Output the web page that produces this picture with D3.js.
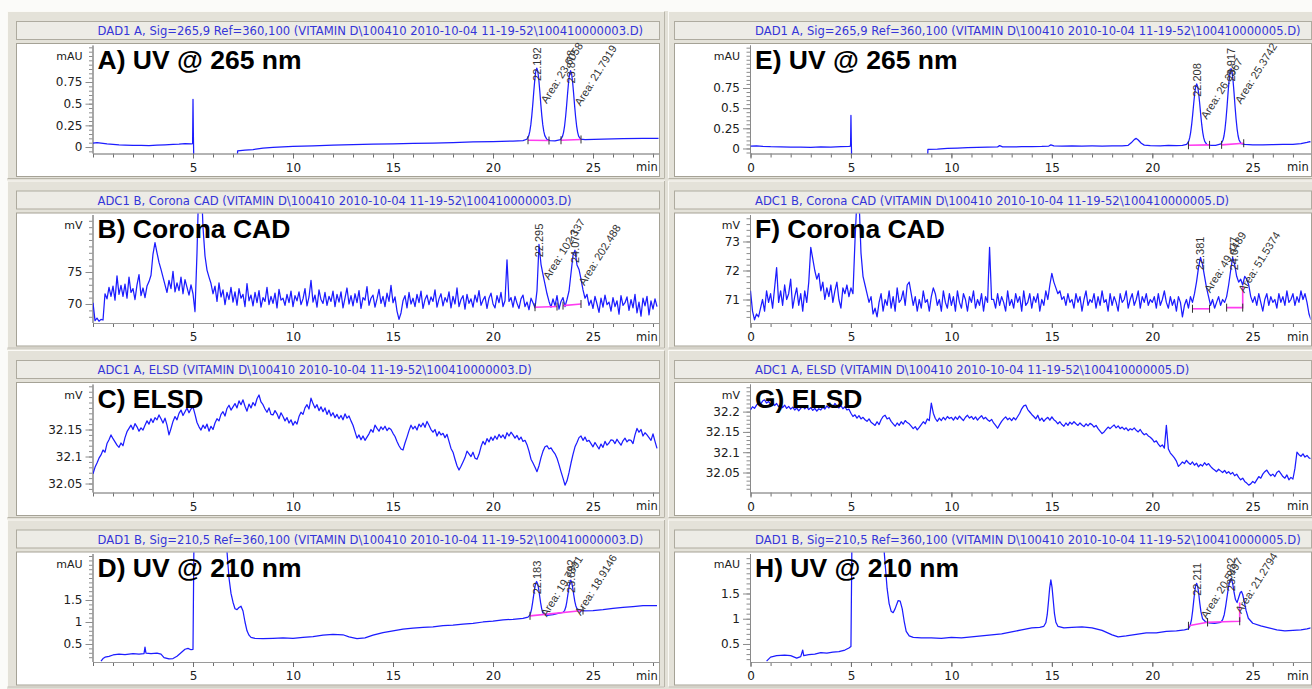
<!DOCTYPE html>
<html>
<head>
<meta charset="utf-8">
<script src="https://cdn.jsdelivr.net/npm/d3@7"></script>
<style>
  body { margin: 0; background: #fff; }
  svg { display: block; }
</style>
</head>
<body>
<svg id="chart" width="1312" height="689"></svg>
<script>
// ---- values ----
const titles = [
  "DAD1 A, Sig=265,9 Ref=360,100 (VITAMIN D\\100410 2010-10-04 11-19-52\\100410000003.D)",
  "ADC1 B, Corona CAD (VITAMIN D\\100410 2010-10-04 11-19-52\\100410000003.D)",
  "ADC1 A, ELSD (VITAMIN D\\100410 2010-10-04 11-19-52\\100410000003.D)",
  "DAD1 B, Sig=210,5 Ref=360,100 (VITAMIN D\\100410 2010-10-04 11-19-52\\100410000003.D)",
  "DAD1 A, Sig=265,9 Ref=360,100 (VITAMIN D\\100410 2010-10-04 11-19-52\\100410000005.D)",
  "ADC1 B, Corona CAD (VITAMIN D\\100410 2010-10-04 11-19-52\\100410000005.D)",
  "ADC1 A, ELSD (VITAMIN D\\100410 2010-10-04 11-19-52\\100410000005.D)",
  "DAD1 B, Sig=210,5 Ref=360,100 (VITAMIN D\\100410 2010-10-04 11-19-52\\100410000005.D)"
];
const labels = ["A) UV @ 265 nm", "B) Corona CAD", "C) ELSD", "D) UV @ 210 nm",
                "E) UV @ 265 nm", "F) Corona CAD", "G) ELSD", "H) UV @ 210 nm"];
const units = ["mAU", "mV", "mV", "mAU", "mAU", "mV", "mV", "mAU"];

const xTicksLeft = [5, 10, 15, 20, 25];
const xTicksRight = [0, 5, 10, 15, 20, 25];

const yTicksA = [0, 0.25, 0.5, 0.75];
const yTicksB = [70, 75];
const yTicksC = [32.05, 32.1, 32.15];
const yTicksD = [0.5, 1, 1.5];
const yTicksE = [0, 0.25, 0.5, 0.75];
const yTicksF = [71, 72, 73];
const yTicksG = [32.05, 32.1, 32.15, 32.2];
const yTicksH = [0.5, 1, 1.5];

// UV traces: [min, mAU]
const uvA = [[0.0,0.045],[0.2,0.05],[0.4,0.045],[0.7,0.035],[1.0,0.03],[1.3,0.025],[1.6,0.022],[2.0,0.018],[2.4,0.02],[2.8,0.017],[3.2,0.022],[3.6,0.025],[4.0,0.03],[4.3,0.033],[4.6,0.038],[4.9,0.035],[4.98,0.04],[5.0,0.55],[5.02,0.12],[5.05,-0.3],[7.2,-0.3],[7.23,-0.045],[7.6,-0.035],[8.0,-0.03],[8.5,-0.012],[9.0,-0.005],[9.5,0.002],[10,0.008],[11,0.014],[12,0.022],[13,0.028],[14,0.033],[15,0.036],[16,0.042],[17,0.046],[18,0.052],[19,0.058],[20,0.063],[21,0.068],[21.5,0.074],[21.69,0.09],[21.79,0.132],[21.84,0.18],[21.89,0.255],[21.94,0.362],[21.99,0.495],[22.04,0.643],[22.09,0.778],[22.14,0.874],[22.19,0.91],[22.24,0.874],[22.29,0.778],[22.34,0.643],[22.39,0.495],[22.44,0.362],[22.49,0.255],[22.54,0.18],[22.59,0.132],[22.69,0.09],[22.85,0.075],[23.1,0.072],[23.38,0.085],[23.48,0.126],[23.53,0.172],[23.58,0.245],[23.63,0.349],[23.68,0.478],[23.73,0.621],[23.78,0.752],[23.83,0.845],[23.88,0.88],[23.93,0.845],[23.98,0.752],[24.03,0.621],[24.08,0.478],[24.13,0.349],[24.18,0.245],[24.23,0.172],[24.28,0.126],[24.38,0.09],[24.6,0.086],[25.5,0.092],[26.5,0.096],[27.5,0.1],[28.3,0.1]];

const uvE = [[0.0,0.03],[0.3,0.032],[0.6,0.026],[1.0,0.022],[1.5,0.02],[2.0,0.016],[2.5,0.018],[3.0,0.015],[3.5,0.02],[4.0,0.018],[4.5,0.022],[4.9,0.025],[4.98,0.03],[5.0,0.41],[5.02,0.06],[5.05,-0.3],[8.8,-0.3],[8.83,-0.012],[9.3,-0.008],[9.8,0.0],[10.3,0.005],[10.8,0.01],[11.3,0.014],[11.8,0.016],[12.3,0.02],[12.4,0.035],[12.55,0.02],[13,0.02],[13.5,0.022],[14,0.024],[14.5,0.026],[14.85,0.03],[14.95,0.045],[15.1,0.032],[15.5,0.03],[16,0.032],[16.5,0.03],[17,0.031],[17.5,0.03],[18,0.032],[18.5,0.033],[18.8,0.04],[18.95,0.07],[19.1,0.11],[19.2,0.125],[19.3,0.105],[19.45,0.065],[19.6,0.042],[19.9,0.034],[20.4,0.032],[20.8,0.038],[21.2,0.036],[21.5,0.038],[21.71,0.05],[21.81,0.088],[21.86,0.131],[21.91,0.2],[21.96,0.298],[22.01,0.42],[22.06,0.555],[22.11,0.679],[22.16,0.767],[22.21,0.8],[22.26,0.767],[22.31,0.679],[22.36,0.555],[22.41,0.42],[22.46,0.298],[22.51,0.2],[22.56,0.131],[22.61,0.088],[22.71,0.05],[22.9,0.04],[23.15,0.038],[23.42,0.057],[23.52,0.105],[23.57,0.158],[23.62,0.244],[23.67,0.366],[23.72,0.517],[23.77,0.686],[23.82,0.84],[23.87,0.949],[23.92,0.99],[23.97,0.949],[24.02,0.84],[24.07,0.686],[24.12,0.517],[24.17,0.366],[24.22,0.244],[24.27,0.158],[24.32,0.105],[24.42,0.06],[24.6,0.05],[25,0.046],[25.5,0.045],[26,0.048],[26.5,0.05],[27,0.052],[27.4,0.06],[27.7,0.075],[27.85,0.085],[28,0.08]];

const uvD = [[0.4,0.11],[0.5,0.17],[0.6,0.2],[0.8,0.22],[1.0,0.25],[1.3,0.27],[1.6,0.26],[2.0,0.28],[2.3,0.27],[2.55,0.28],[2.6,0.43],[2.65,0.29],[2.9,0.28],[3.2,0.29],[3.4,0.27],[3.55,0.19],[3.8,0.16],[4.0,0.17],[4.2,0.22],[4.4,0.3],[4.6,0.38],[4.75,0.4],[4.9,0.37],[5.0,0.38],[5.05,3.0],[6.6,3.0],[6.7,2.6],[6.8,2.0],[6.9,1.65],[7.0,1.45],[7.1,1.3],[7.2,1.28],[7.3,1.33],[7.4,1.36],[7.5,1.25],[7.6,1.0],[7.7,0.8],[7.8,0.7],[7.9,0.65],[8.1,0.63],[8.5,0.62],[9,0.63],[9.5,0.64],[10,0.63],[10.5,0.65],[11,0.67],[11.5,0.7],[12,0.72],[12.5,0.71],[12.8,0.66],[13.2,0.62],[13.6,0.64],[14,0.7],[14.5,0.76],[15,0.8],[15.5,0.84],[16,0.86],[16.5,0.88],[17,0.89],[17.5,0.92],[18,0.93],[18.5,0.95],[19,0.97],[19.5,1.0],[20,1.02],[20.5,1.05],[21,1.06],[21.5,1.08],[21.75,1.11],[21.83,1.15],[21.88,1.2],[21.93,1.3],[21.98,1.44],[22.03,1.6],[22.08,1.76],[22.13,1.87],[22.18,1.92],[22.23,1.87],[22.28,1.76],[22.33,1.6],[22.38,1.44],[22.43,1.31],[22.48,1.22],[22.55,1.17],[22.7,1.15],[23.0,1.17],[23.3,1.2],[23.5,1.22],[23.58,1.26],[23.64,1.34],[23.69,1.46],[23.74,1.61],[23.79,1.76],[23.84,1.89],[23.89,1.95],[23.94,1.89],[23.99,1.76],[24.04,1.61],[24.09,1.47],[24.14,1.37],[24.2,1.3],[24.3,1.26],[24.5,1.25],[25,1.26],[25.5,1.28],[26,1.31],[26.5,1.33],[27,1.35],[27.5,1.37],[28.2,1.37]];

const uvH = [[0.8,0.16],[0.9,0.2],[1.0,0.24],[1.3,0.27],[1.7,0.28],[2.0,0.27],[2.3,0.22],[2.5,0.25],[2.6,0.38],[2.65,0.27],[2.9,0.29],[3.2,0.3],[3.5,0.33],[3.8,0.32],[4.1,0.34],[4.4,0.35],[4.7,0.38],[4.9,0.42],[5.0,0.45],[5.05,2.6],[6.6,2.6],[6.7,2.1],[6.8,1.6],[6.9,1.3],[7.0,1.15],[7.1,1.12],[7.2,1.2],[7.35,1.36],[7.45,1.35],[7.55,1.2],[7.65,0.95],[7.75,0.75],[7.9,0.66],[8.1,0.63],[8.5,0.62],[9,0.62],[9.5,0.61],[10,0.63],[10.5,0.62],[11,0.64],[11.5,0.66],[12,0.68],[12.5,0.7],[13,0.74],[13.5,0.78],[14,0.82],[14.4,0.83],[14.6,0.85],[14.7,0.92],[14.77,1.08],[14.83,1.33],[14.89,1.6],[14.95,1.77],[15.01,1.62],[15.07,1.36],[15.13,1.1],[15.2,0.93],[15.3,0.85],[15.6,0.82],[16,0.83],[16.5,0.84],[17,0.82],[17.5,0.77],[18,0.68],[18.3,0.64],[18.7,0.66],[19.2,0.69],[19.7,0.72],[20.2,0.72],[20.7,0.75],[21.2,0.76],[21.6,0.78],[21.8,0.8],[21.88,0.86],[21.95,0.98],[22.01,1.16],[22.06,1.35],[22.11,1.53],[22.16,1.66],[22.21,1.7],[22.26,1.64],[22.31,1.5],[22.36,1.32],[22.42,1.14],[22.5,1.0],[22.65,0.94],[22.8,0.92],[23.1,0.91],[23.4,0.93],[23.5,0.98],[23.58,1.08],[23.65,1.24],[23.72,1.43],[23.79,1.62],[23.86,1.75],[23.93,1.8],[24.0,1.7],[24.07,1.52],[24.14,1.38],[24.22,1.32],[24.3,1.42],[24.38,1.52],[24.44,1.54],[24.5,1.48],[24.58,1.34],[24.67,1.16],[24.78,1.01],[25.0,0.91],[25.4,0.86],[25.8,0.82],[26.2,0.78],[26.6,0.76],[27.0,0.77],[27.4,0.78],[27.7,0.8],[27.9,0.82]];

// CAD / ELSD traces: one value every 0.1 min from 0 min
const cadB = [
70.2,67.4,67.8,67.3,67.6,67.5,71.6,70.8,72.6,71.2,
72.8,70.6,74.4,71.5,72.9,71.2,73.1,70.9,74.2,71.8,
72.4,70.7,73.0,74.6,71.3,72.5,71.0,72.8,73.5,74.5,
77.8,79.6,78.0,76.5,75.4,74.2,73.0,71.8,73.7,72.4,
75.1,71.9,73.3,72.1,74.2,71.6,73.8,72.6,71.4,73.0,
71.6,68.8,78.0,90,90,82.0,77.5,75.3,74.2,73.2,
71.6,72.8,70.4,73.3,71.1,72.2,69.9,71.8,70.7,72.6,
70.3,71.9,69.8,72.4,70.9,71.5,69.6,73.2,70.5,71.4,
69.7,71.8,70.2,72.1,69.5,71.0,70.4,72.6,69.9,71.2,
70.1,71.7,69.4,72.3,70.6,70.9,69.8,71.5,70.2,72.0,
69.6,71.3,70.5,71.9,69.9,70.8,72.4,69.7,71.1,73.7,
70.3,71.4,69.5,72.2,70.7,70.1,71.8,69.8,71.2,70.4,
72.0,69.6,71.5,70.3,71.9,69.4,70.9,72.5,70.0,71.3,
69.7,71.6,70.2,72.1,69.3,71.0,70.6,72.7,69.8,70.9,
71.4,69.5,70.8,72.3,70.1,71.2,69.6,71.7,70.4,72.9,
70.2,71.1,68.9,67.6,68.6,70.5,71.3,69.4,71.8,70.0,
70.9,69.6,71.5,70.2,72.0,69.3,70.7,71.4,69.9,71.1,
70.4,72.2,69.5,70.8,71.6,69.7,71.0,70.3,71.9,69.4,
71.2,70.0,72.5,69.6,70.7,71.3,69.2,71.5,70.1,70.8,
69.5,71.4,70.3,72.1,69.8,70.6,71.2,69.3,70.9,71.7,
70.0,69.4,71.3,70.2,71.8,69.6,70.5,76.9,70.4,71.0,
69.5,71.2,70.1,69.3,70.8,71.4,69.6,70.3,69.1,70.9,
70.2,69.4,72.1,79.3,76.2,74.6,73.1,71.6,70.4,69.5,
70.8,69.7,71.3,69.2,70.4,71.0,69.6,70.7,72.0,74.8,
77.6,78.4,76.1,75.4,73.9,72.2,70.9,71.5,69.8,70.6,
69.3,71.2,70.0,68.7,70.9,69.5,71.4,69.9,70.3,68.9,
71.0,69.6,70.5,68.4,71.3,69.8,70.2,71.1,69.0,70.7,
69.4,71.5,68.6,70.3,68.1,70.9,69.7,71.2,68.3,70.5,
69.2,70.8,69.6];

const elsdC = [
32.068,32.080,32.088,32.097,32.103,32.112,32.108,32.124,32.131,32.140,
32.133,32.127,32.121,32.117,32.125,32.120,32.135,32.146,32.152,32.158,
32.150,32.161,32.155,32.147,32.153,32.149,32.158,32.166,32.160,32.170,
32.163,32.172,32.168,32.177,32.170,32.162,32.171,32.158,32.140,32.152,
32.165,32.174,32.168,32.180,32.186,32.176,32.183,32.190,32.181,32.188,
32.192,32.178,32.163,32.155,32.149,32.158,32.152,32.160,32.147,32.156,
32.150,32.162,32.170,32.166,32.178,32.183,32.175,32.189,32.195,32.186,
32.192,32.198,32.190,32.203,32.196,32.205,32.193,32.184,32.197,32.190,
32.200,32.194,32.207,32.214,32.201,32.196,32.188,32.182,32.190,32.178,
32.177,32.185,32.179,32.170,32.181,32.174,32.166,32.172,32.162,32.168,
32.158,32.165,32.160,32.174,32.182,32.178,32.190,32.196,32.188,32.208,
32.198,32.190,32.196,32.185,32.192,32.183,32.190,32.178,32.186,32.175,
32.181,32.172,32.178,32.170,32.176,32.168,32.179,32.171,32.175,32.166,
32.158,32.146,32.134,32.140,32.131,32.138,32.130,32.136,32.142,32.150,
32.145,32.158,32.152,32.147,32.155,32.150,32.156,32.148,32.153,32.150,
32.143,32.137,32.128,32.120,32.114,32.112,32.125,32.136,32.148,32.158,
32.151,32.156,32.149,32.160,32.155,32.162,32.154,32.165,32.158,32.150,
32.145,32.150,32.138,32.146,32.140,32.143,32.135,32.141,32.128,32.115,
32.108,32.095,32.083,32.075,32.082,32.090,32.098,32.110,32.105,32.100,
32.108,32.097,32.095,32.104,32.118,32.128,32.122,32.133,32.127,32.136,
32.130,32.138,32.132,32.141,32.135,32.140,32.133,32.144,32.138,32.145,
32.140,32.134,32.139,32.131,32.136,32.128,32.130,32.122,32.110,32.095,
32.088,32.080,32.072,32.083,32.098,32.110,32.118,32.120,32.114,32.116,
32.110,32.105,32.097,32.085,32.072,32.060,32.047,32.055,32.070,32.088,
32.104,32.118,32.126,32.135,32.138,32.130,32.136,32.128,32.130,32.124,
32.118,32.126,32.120,32.114,32.123,32.117,32.128,32.121,32.125,32.131,
32.130,32.124,32.132,32.126,32.121,32.129,32.134,32.127,32.131,32.130,
32.124,32.140,32.152,32.145,32.150,32.138,32.144,32.140,32.135,32.130,
32.142,32.128,32.115];

const cadF = [
71.3,70.6,70.3,70.5,70.4,70.7,71.0,70.6,71.3,70.9,
71.2,70.7,71.4,72.1,70.9,71.3,70.8,71.5,71.0,71.2,
71.7,70.7,71.1,71.4,70.8,71.2,70.6,71.3,70.9,71.6,
72.8,72.4,72.0,71.7,71.9,71.3,71.6,71.0,71.4,71.1,
71.5,70.9,71.3,71.6,71.0,70.7,71.4,71.2,71.5,71.1,
71.4,71.2,73.0,74.5,74.5,72.6,71.8,71.5,71.2,70.9,
71.1,70.5,70.7,70.4,70.9,71.2,70.6,71.0,70.8,71.3,
70.7,71.1,70.6,71.4,70.9,71.0,71.3,70.8,71.5,71.6,
71.2,70.8,71.1,70.6,71.0,70.7,71.3,70.9,71.0,70.6,
71.1,71.4,71.2,70.8,71.0,70.6,71.3,70.9,70.7,71.2,
70.8,71.1,70.6,71.3,70.9,70.7,71.2,71.0,70.6,71.1,
70.9,71.3,70.7,71.0,70.8,71.2,70.6,71.1,70.9,72.8,
71.0,71.0,70.7,71.2,70.8,71.1,70.9,70.6,71.3,70.8,
71.0,70.7,71.2,70.9,71.1,70.6,71.3,70.8,70.9,71.2,
70.7,71.1,70.9,71.2,70.6,71.0,70.8,71.3,71.0,71.5,
71.9,71.6,71.4,71.2,71.3,71.0,71.1,70.8,71.2,70.9,
71.0,70.7,71.2,70.9,71.1,70.6,71.0,71.3,70.8,71.0,
70.9,71.2,70.7,71.1,70.8,71.3,70.9,71.0,70.6,71.2,
70.8,71.1,70.9,70.6,71.2,70.9,71.0,71.3,70.7,71.0,
71.2,70.8,71.0,71.3,70.7,71.1,70.9,71.2,70.8,71.0,
70.9,71.1,70.7,71.2,70.8,71.0,71.3,70.9,70.7,71.1,
70.8,71.0,70.6,71.1,70.9,70.4,70.8,71.0,70.7,71.1,
70.9,71.2,71.6,72.1,72.45,72.2,71.8,71.4,71.1,70.8,
71.0,70.7,70.9,71.1,70.8,71.0,70.9,71.1,71.5,72.0,
72.45,72.2,71.8,71.6,71.7,71.5,71.8,71.7,71.5,71.1,
70.9,71.1,70.8,71.2,70.9,70.6,71.0,71.2,70.8,71.1,
70.9,71.0,70.7,71.2,70.9,71.1,70.8,71.3,70.9,71.0,
71.2,70.8,71.1,70.9,71.3,71.0,71.2,70.9,70.5,70.3];

const elsdG = [
32.204,32.212,32.208,32.216,32.222,32.218,32.226,32.229,32.221,32.225,
32.218,32.223,32.215,32.220,32.212,32.217,32.210,32.216,32.208,32.213,
32.206,32.211,32.204,32.209,32.202,32.208,32.214,32.207,32.212,32.205,
32.210,32.203,32.208,32.201,32.207,32.204,32.211,32.206,32.214,32.209,
32.216,32.212,32.220,32.214,32.209,32.215,32.207,32.212,32.204,32.206,
32.196,32.188,32.192,32.184,32.190,32.182,32.186,32.180,32.176,32.182,
32.174,32.170,32.166,32.175,32.168,32.180,32.188,32.191,32.182,32.185,
32.176,32.170,32.164,32.172,32.166,32.175,32.169,32.178,32.173,32.170,
32.164,32.158,32.163,32.155,32.161,32.168,32.175,32.170,32.182,32.178,
32.221,32.196,32.183,32.176,32.184,32.178,32.186,32.180,32.188,32.183,
32.186,32.179,32.187,32.181,32.189,32.183,32.178,32.186,32.191,32.184,
32.188,32.181,32.187,32.179,32.185,32.190,32.182,32.186,32.180,32.176,
32.181,32.172,32.166,32.159,32.168,32.176,32.182,32.187,32.180,32.184,
32.178,32.185,32.180,32.188,32.196,32.207,32.214,32.216,32.205,32.199,
32.193,32.188,32.182,32.191,32.178,32.184,32.176,32.182,32.186,32.179,
32.187,32.180,32.176,32.170,32.175,32.168,32.164,32.172,32.166,32.174,
32.169,32.175,32.170,32.166,32.172,32.167,32.163,32.170,32.165,32.171,
32.168,32.162,32.166,32.158,32.152,32.146,32.150,32.156,32.162,32.158,
32.163,32.167,32.160,32.165,32.158,32.162,32.156,32.160,32.153,32.158,
32.155,32.160,32.154,32.150,32.156,32.148,32.143,32.146,32.140,32.137,
32.132,32.125,32.128,32.120,32.114,32.118,32.110,32.166,32.108,32.098,
32.092,32.086,32.078,32.065,32.070,32.076,32.072,32.080,32.074,32.070,
32.076,32.068,32.073,32.064,32.070,32.066,32.074,32.068,32.072,32.065,
32.060,32.056,32.052,32.058,32.054,32.050,32.055,32.048,32.052,32.046,
32.050,32.042,32.046,32.038,32.032,32.036,32.028,32.024,32.019,32.022,
32.028,32.024,32.032,32.040,32.036,32.046,32.052,32.056,32.048,32.042,
32.046,32.040,32.050,32.054,32.047,32.040,32.036,32.044,32.032,32.038,
32.034,32.060,32.100,32.094,32.090,32.096,32.088,32.092,32.086,32.084];

// integration baselines (magenta)
const baseA = [[[21.75,0.078],[22.8,0.075]], [[23.4,0.078],[24.4,0.087]]];
const baseB = [[[22.1,69.5],[23.2,69.6]], [[23.5,69.75],[24.4,70.0]]];
const baseD = [[[21.85,1.14],[24.5,1.26]]];
const baseE = [[[21.8,0.04],[22.85,0.045]], [[23.45,0.045],[24.55,0.065]]];
const baseF = [[[22.0,70.68],[22.85,70.68]], [[23.7,70.72],[24.5,70.72],[24.5,71.45]]];
const baseH = [[[21.8,0.86],[22.75,0.93]], [[22.75,0.93],[24.35,0.95],[24.35,1.32]]];

// peak annotations
const peaksA = [{rt: 22.192, h: 0.91, area: "Area: 23.6058"}, {rt: 23.878, h: 0.88, area: "Area: 21.7919"}];
const peaksB = [{rt: 22.295, h: 79.3, area: "Area: 102.337"}, {rt: 24.077, h: 78.4, area: "Area: 202.488"}];
const peaksD = [{rt: 22.183, h: 1.92, area: "Area: 19.7891"}, {rt: 23.892, h: 1.95, area: "Area: 18.9146"}];
const peaksE = [{rt: 22.208, h: 0.8, area: "Area: 26.2567"}, {rt: 23.917, h: 0.99, area: "Area: 25.3742"}];
const peaksF = [{rt: 22.381, h: 72.45, area: "Area: 49.4489"}, {rt: 24.077, h: 72.45, area: "Area: 51.5374"}];
const peaksH = [{rt: 22.211, h: 1.7, area: "Area: 20.5497"}, {rt: 23.932, h: 1.8, area: "Area: 21.2794"}];

// ---- layout ----
const W = 1312, H = 689;
const rowH = 169.5;
const sampled = vals => vals.map((v, i) => [i / 10, v]);
const SANS = "DejaVu Sans, sans-serif";
const ARIAL = "Liberation Sans, Arial, sans-serif";

const cols = [
  {frame: [7, 665], box: [16, 659], x0: 93, pxMin: 20.0, tmax: 28.3, ticks: xTicksLeft, minX: 636},
  {frame: [668, 1320], box: [674, 1311], x0: 750.5, pxMin: 20.09, tmax: 28, ticks: xTicksRight, minX: 1287}
];

const panels = [
  {col: 0, row: 0, data: uvA, base: baseA, peaks: peaksA, lo: -0.069, hi: 1.177, ticks: yTicksA, minor: 0.05},
  {col: 0, row: 1, data: sampled(cadB), base: baseB, peaks: peaksB, lo: 67.11, hi: 83.98, ticks: yTicksB, minor: 1},
  {col: 0, row: 2, data: sampled(elsdC), base: [], peaks: [], lo: 32.0343, hi: 32.2343, ticks: yTicksC, minor: 0.01},
  {col: 0, row: 3, data: uvD, base: baseD, peaks: peaksD, lo: 0.102, hi: 2.557, ticks: yTicksD, minor: 0.1},
  {col: 1, row: 0, data: uvE, base: baseE, peaks: peaksE, lo: -0.056, hi: 1.283, ticks: yTicksE, minor: 0.05},
  {col: 1, row: 1, data: sampled(cadF), base: baseF, peaks: peaksF, lo: 70.207, hi: 73.93, ticks: yTicksF, minor: 0.2},
  {col: 1, row: 2, data: sampled(elsdG), base: [], peaks: [], lo: 32.002, hi: 32.268, ticks: yTicksG, minor: 0.01},
  {col: 1, row: 3, data: uvH, base: baseH, peaks: peaksH, lo: 0.153, hi: 2.292, ticks: yTicksH, minor: 0.1}
];

const svg = d3.select("#chart");
svg.append("rect").attr("width", W).attr("height", H).attr("fill", "#fbfbf9");
svg.append("rect").attr("x", 7).attr("y", 11).attr("width", W - 7).attr("height", H - 11).attr("fill", "#e3e1d8");

// size the blue header font so the longest one fills its box like the original
const probe = svg.append("text").attr("font-family", SANS).attr("font-size", 10).text(titles[0]);
const titleSize = 10 * 546 / probe.node().getComputedTextLength();
probe.remove();

panels.forEach((p, i) => {
  const c = cols[p.col];
  const T = 11 + rowH * p.row;
  const g = svg.append("g");

  // raised frame
  g.append("rect")
    .attr("x", c.frame[0] + 0.5).attr("y", T + 0.5)
    .attr("width", c.frame[1] - c.frame[0] - 1).attr("height", 167)
    .attr("fill", "#e4e2d9").attr("stroke", "#fbfaf6");
  g.append("path")
    .attr("d", `M${c.frame[0] + 0.5},${T + 167.5}H${c.frame[1] - 0.5}V${T + 0.5}`)
    .attr("fill", "none").attr("stroke", "#b8b5a9");

  // header box
  g.append("rect")
    .attr("x", c.box[0] + 0.5).attr("y", T + 10.5)
    .attr("width", c.box[1] - c.box[0]).attr("height", 18)
    .attr("fill", "#edece6").attr("stroke", "#aeab9f");
  g.append("text")
    .attr("x", c.x0 + 4.5).attr("y", T + 20).attr("dy", "0.35em")
    .attr("font-family", SANS).attr("font-size", titleSize).attr("fill", "#3535d8")
    .text(titles[i]);

  // plot box
  g.append("rect")
    .attr("x", c.box[0] + 0.5).attr("y", T + 32.5)
    .attr("width", c.box[1] - c.box[0]).attr("height", 133)
    .attr("fill", "#ffffff").attr("stroke", "#a5a296");

  const x = d3.scaleLinear().domain([0, c.tmax]).range([c.x0, c.x0 + c.pxMin * c.tmax]);
  const y = d3.scaleLinear().domain([p.lo, p.hi]).range([T + 142, T + 34]);

  // y axis: minor then major ticks
  const minorVals = d3.range(Math.ceil(p.lo / p.minor - 1e-6), Math.floor(p.hi / p.minor + 1e-6) + 1)
    .map(k => k * p.minor);
  const yMinor = g.append("g").attr("transform", `translate(${c.x0 - 0.5},0)`)
    .call(d3.axisLeft(y).tickValues(minorVals).tickSize(3.5).tickSizeOuter(0).tickFormat(""));
  const yMajor = g.append("g").attr("transform", `translate(${c.x0 - 0.5},0)`)
    .call(d3.axisLeft(y).tickValues(p.ticks).tickSize(7).tickSizeOuter(0).tickPadding(3)
      .tickFormat(v => String(+v.toFixed(3))));
  [yMinor, yMajor].forEach(a => {
    a.select(".domain").attr("stroke", "#8a8a8a");
    a.selectAll(".tick line").attr("stroke", "#8c8c8c");
  });
  yMajor.selectAll(".tick text").attr("font-size", 12).attr("fill", "#202020")
    .attr("font-family", SANS);

  g.append("text")
    .attr("x", c.x0 - 10.5).attr("y", T + 45).attr("dy", "0.35em")
    .attr("text-anchor", "end").attr("font-family", SANS).attr("font-size", 11).attr("fill", "#202020")
    .text(units[i]);

  // x axis
  const xMinor = g.append("g").attr("transform", `translate(0,${T + 142.5})`)
    .call(d3.axisBottom(x).tickValues(d3.range(0, Math.floor(c.tmax) + 1)).tickSize(4).tickSizeOuter(0).tickFormat(""));
  const xMajor = g.append("g").attr("transform", `translate(0,${T + 142.5})`)
    .call(d3.axisBottom(x).tickValues(c.ticks).tickSize(5).tickSizeOuter(0).tickPadding(4.5));
  [xMinor, xMajor].forEach(a => {
    a.select(".domain").attr("stroke", "#9a9a9a");
    a.selectAll(".tick line").attr("stroke", "#707070");
  });
  xMajor.selectAll(".tick text").attr("font-size", 12).attr("fill", "#202020")
    .attr("font-family", SANS);
  g.append("text")
    .attr("x", c.minX).attr("y", T + 156).attr("dy", "0.35em")
    .attr("font-family", SANS).attr("font-size", 11.5).attr("fill", "#202020")
    .text("min");

  // traces clipped to the plot area
  const clipId = "clip" + i;
  g.append("clipPath").attr("id", clipId).append("rect")
    .attr("x", c.x0).attr("y", T + 33)
    .attr("width", c.box[1] - 0.5 - c.x0).attr("height", 109.5);
  const plot = g.append("g").attr("clip-path", `url(#${clipId})`);
  const line = d3.line().x(d => x(d[0])).y(d => y(d[1]));

  plot.append("path").datum(p.data)
    .attr("d", line).attr("fill", "none")
    .attr("stroke", "#1c1cff").attr("stroke-width", 1.25).attr("stroke-linejoin", "round");

  p.base.forEach(seg => {
    plot.append("path").datum(seg)
      .attr("d", line).attr("fill", "none")
      .attr("stroke", "#ff3cf0").attr("stroke-width", 1.6);
    seg.slice(0, 2).forEach(d => {
      plot.append("line")
        .attr("x1", x(d[0])).attr("x2", x(d[0]))
        .attr("y1", y(d[1]) - 4).attr("y2", y(d[1]) + 4)
        .attr("stroke", "#303030").attr("stroke-width", 1);
    });
  });

  // retention time and area labels
  p.peaks.forEach(pk => {
    const px = x(pk.rt), py = y(pk.h);
    const cy = Math.max(py - 4, T + 53);
    g.append("text")
      .attr("transform", `translate(${px + 4},${cy}) rotate(-90)`)
      .attr("text-anchor", "middle")
      .attr("font-family", ARIAL)
      .attr("font-size", 11).attr("fill", "#333")
      .text(pk.rt.toFixed(3));
    g.append("text")
      .attr("transform", `translate(${px + 10},${py + 36}) rotate(-58)`)
      .attr("font-family", ARIAL)
      .attr("font-size", 11).attr("fill", "#333")
      .text(pk.area);
  });

  // big panel letter label
  g.append("text")
    .attr("x", c.x0 + 4.5).attr("y", T + 57.5)
    .attr("font-family", ARIAL)
    .attr("font-weight", "bold").attr("font-size", 26.5).attr("fill", "#000")
    .text(labels[i]);
});
</script>
</body>
</html>
